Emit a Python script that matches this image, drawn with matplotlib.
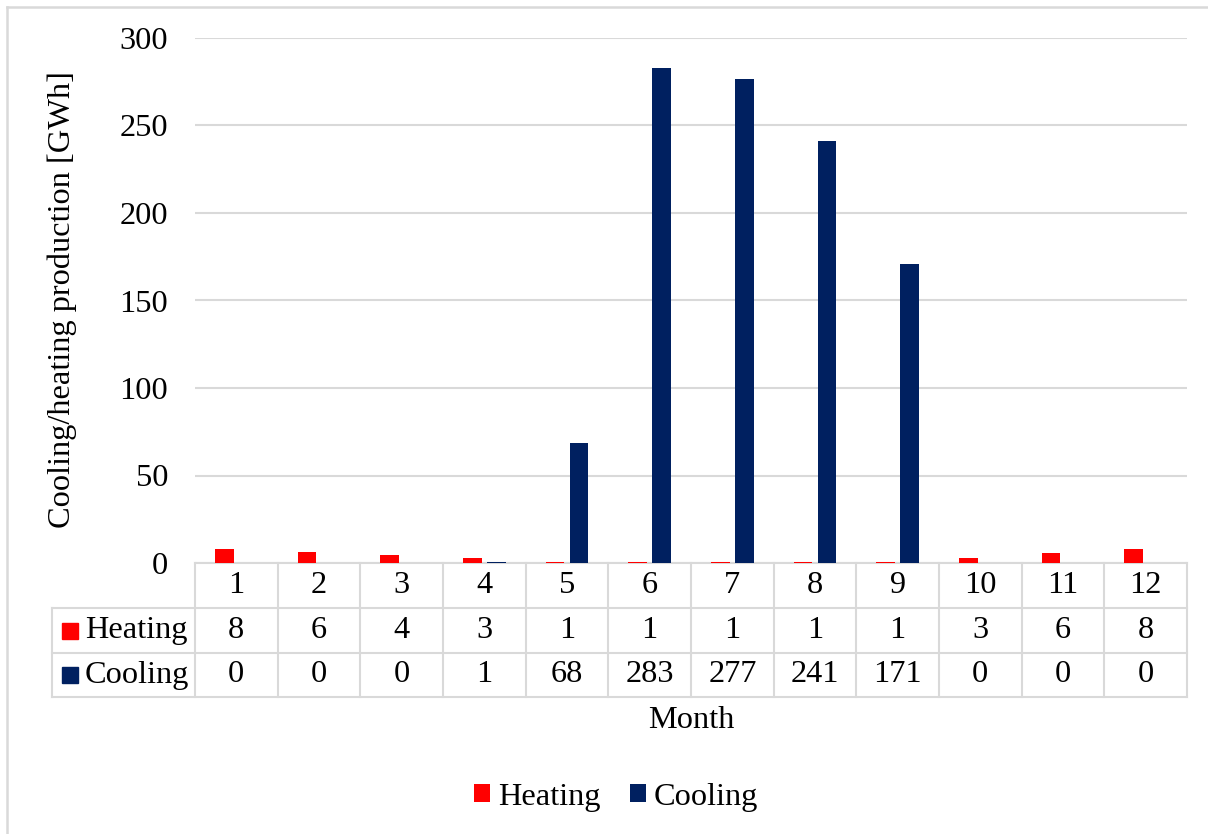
import matplotlib
matplotlib.use("Agg")
import matplotlib.pyplot as plt
import numpy as np
from matplotlib.patches import Patch
from matplotlib.lines import Line2D
from matplotlib.transforms import blended_transform_factory

months = ["1", "2", "3", "4", "5", "6", "7", "8", "9", "10", "11", "12"]
heating = [7.9, 6.2, 4.4, 2.8, 0.8, 0.8, 0.8, 0.8, 0.8, 2.9, 5.5, 7.9]
cooling = [0.0, 0.0, 0.0, 0.7, 68.4, 282.8, 276.7, 240.9, 170.6, 0.0, 0.0, 0.0]
series_names = ["Heating", "Cooling"]
colors = ["#FF0000", "#002060"]
yticks = [0, 50, 100, 150, 200, 250, 300]

plt.rcParams['font.family'] = ['Liberation Serif', 'DejaVu Serif']
FS = 23.3
GRID = "#d9d9d9"
PX = 72 / 100  # points per pixel

W, H = 1208, 834
fig = plt.figure(figsize=(W / 100, H / 100), dpi=100)
ax_l, ax_r, ax_t, ax_b = 195, 1187, 38, 563
ax = fig.add_axes([ax_l / W, 1 - ax_b / H, (ax_r - ax_l) / W, (ax_b - ax_t) / H])

x = np.arange(len(months))
bw = 0.225
off = 0.145
ax.bar(x - off, heating, bw, color=colors[0], zorder=3)
ax.bar(x + off, cooling, bw, color=colors[1], zorder=3)

ax.set_xlim(-0.5, len(months) - 0.5)
ax.set_ylim(0, 300)
ax.set_yticks(yticks)
ax.set_yticklabels([str(v) for v in yticks], fontsize=FS)
ax.tick_params(axis='y', length=0, pad=27 * PX)
ax.set_xticks([])
for s in ax.spines.values():
    s.set_visible(False)
ax.yaxis.grid(True, color=GRID, linewidth=1.5, zorder=0)
ax.set_axisbelow(True)
fig.text(62 / W, 1 - 300 / H, "Cooling/heating production [GWh]", rotation=90,
         ha='center', va='center', fontsize=FS)

# ---- data table ----
axh = ax_b - ax_t
def yf(py):
    return (ax_b - py) / axh
def xf(px):
    return (px - ax_l) / (ax_r - ax_l)

bt = blended_transform_factory(ax.transData, ax.transAxes)
rows_y = [563, 608, 653, 697]
lw = 1.5
ax.plot([-0.5, len(months) - 0.5], [yf(rows_y[0])] * 2, transform=bt, color=GRID, lw=lw,
        clip_on=False, zorder=1)
for ry in rows_y[1:]:
    ax.plot([xf(52), 1.0], [yf(ry)] * 2, transform=ax.transAxes, color=GRID, lw=lw, clip_on=False)
for k in range(len(months) + 1):
    ax.plot([k - 0.5] * 2, [yf(563), yf(697)], transform=bt, color=GRID, lw=lw, clip_on=False)
ax.plot([xf(52)] * 2, [yf(608), yf(697)], transform=ax.transAxes, color=GRID, lw=lw, clip_on=False)

centers = [(rows_y[i] + rows_y[i + 1]) / 2 for i in range(3)]
for i, m in enumerate(months):
    ax.text(i, yf(centers[0]), m, transform=bt, ha='center', va='center', fontsize=FS)
    ax.text(i, yf(centers[1]), f"{heating[i]:.0f}", transform=bt, ha='center', va='center', fontsize=FS)
    ax.text(i, yf(centers[2]), f"{cooling[i]:.0f}", transform=bt, ha='center', va='center', fontsize=FS)

for j, (name, c) in enumerate(zip(series_names, colors)):
    cy = yf(centers[j + 1])
    ax.plot([xf(70.5)], [cy], transform=ax.transAxes, marker='s', markersize=12,
            color=c, clip_on=False, linestyle='none')
    ax.text(xf(85), cy, name, transform=ax.transAxes, ha='left', va='center', fontsize=FS)

fig.text(691 / W, 1 - 720 / H, "Month", ha='center', va='center', fontsize=FS)

handles = [Patch(facecolor=c, edgecolor='none', label=n) for n, c in zip(series_names, colors)]
fig.legend(handles=handles, loc='center', bbox_to_anchor=(616 / W, 1 - 797 / H), ncol=2,
           frameon=False, fontsize=FS, handlelength=0.5, handleheight=0.5,
           handletextpad=0.25, columnspacing=0.9)

fig.add_artist(Line2D([7 / W, 7 / W], [0, 1 - 7 / H], color=GRID, lw=1.8, transform=fig.transFigure))
fig.add_artist(Line2D([7 / W, 1], [1 - 7 / H, 1 - 7 / H], color=GRID, lw=1.8, transform=fig.transFigure))

fig.savefig("out.png", dpi=100, facecolor='white')
